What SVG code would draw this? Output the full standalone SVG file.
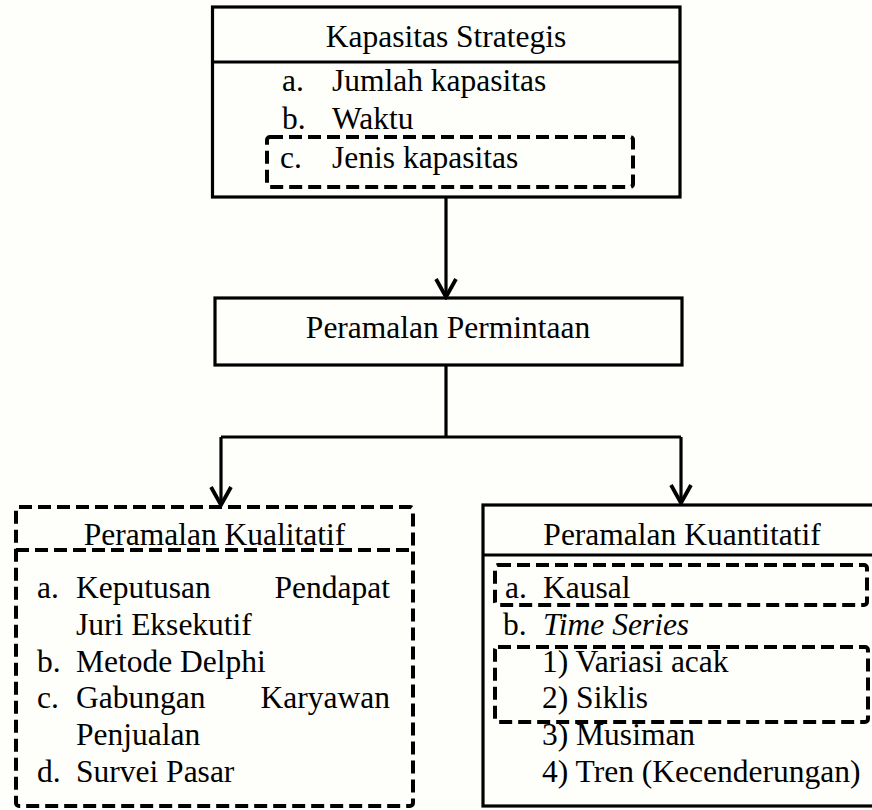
<svg xmlns="http://www.w3.org/2000/svg" width="872" height="810" viewBox="0 0 872 810">
<defs>
<style>
.bg{fill:#fefefa}
.box{fill:none;stroke:#000;stroke-width:3.2}
.dash{fill:none;stroke:#000;stroke-width:4;stroke-dasharray:13 6}
.t{font-family:"Liberation Serif","Times New Roman",serif;font-size:31.5px;fill:#000}
.c{text-anchor:middle}
.r{text-anchor:end}
.i{font-style:italic}
.con{fill:none;stroke:#000;stroke-width:3.2}
</style>
<marker id="arr" markerUnits="userSpaceOnUse" markerWidth="24" markerHeight="24" viewBox="-20 -12 22 24" refX="0" refY="0" orient="auto">
<path d="M-18,-10 L0,0 L-18,10" fill="none" stroke="#000" stroke-width="3.8"/>
</marker>
</defs>
<rect class="bg" x="0" y="0" width="872" height="810"/>

<g id="connectors">
<line class="con" x1="446" y1="197" x2="446" y2="297" marker-end="url(#arr)"/>
<polyline class="con" points="446,365 446,437"/>
<polyline class="con" points="221,437 681,437"/>
<line class="con" x1="221" y1="437" x2="221" y2="505" marker-end="url(#arr)"/>
<line class="con" x1="681" y1="437" x2="681" y2="503" marker-end="url(#arr)"/>
</g>

<g id="kapasitas-strategis">
<rect class="box" x="212.5" y="7" width="467.5" height="190"/>
<line class="box" x1="212.5" y1="62" x2="680" y2="62"/>
<text class="t c" x="446" y="47">Kapasitas Strategis</text>
<text class="t" x="282" y="91">a.</text><text class="t" x="332" y="91">Jumlah kapasitas</text>
<text class="t" x="282" y="129">b.</text><text class="t" x="332" y="129">Waktu</text>
<rect class="dash" x="267" y="137" width="366" height="50" rx="3"/>
<text class="t" x="280" y="168">c.</text><text class="t" x="332" y="168">Jenis kapasitas</text>
</g>

<g id="peramalan-permintaan">
<rect class="box" x="215" y="298" width="467" height="67"/>
<text class="t c" x="448" y="338">Peramalan Permintaan</text>
</g>

<g id="peramalan-kualitatif">
<rect class="dash" x="16" y="507" width="397" height="299" rx="3"/>
<line class="dash" x1="16" y1="550" x2="413" y2="550"/>
<text class="t c" x="214.5" y="545">Peramalan Kualitatif</text>
<text class="t" x="37" y="598">a.</text><text class="t" x="76" y="598">Keputusan</text><text class="t r" x="390" y="598">Pendapat</text>
<text class="t" x="76" y="635">Juri Eksekutif</text>
<text class="t" x="37" y="672">b.</text><text class="t" x="76" y="672">Metode Delphi</text>
<text class="t" x="37" y="708">c.</text><text class="t" x="76" y="708">Gabungan</text><text class="t r" x="390" y="708">Karyawan</text>
<text class="t" x="76" y="745">Penjualan</text>
<text class="t" x="37" y="782">d.</text><text class="t" x="76" y="782">Survei Pasar</text>
</g>

<g id="peramalan-kuantitatif">
<rect class="box" x="483" y="505" width="402" height="301"/>
<line class="box" x1="483" y1="555" x2="885" y2="555"/>
<text class="t c" x="682" y="545">Peramalan Kuantitatif</text>
<rect class="dash" x="495" y="565" width="372" height="40" rx="3"/>
<text class="t" x="505" y="598">a.</text><text class="t" x="543" y="598">Kausal</text>
<text class="t" x="503" y="635">b.</text><text class="t i" x="543" y="635">Time Series</text>
<rect class="dash" x="495" y="647" width="373" height="75" rx="3"/>
<text class="t" x="542" y="672">1) Variasi acak</text>
<text class="t" x="542" y="708">2) Siklis</text>
<text class="t" x="542" y="745">3) Musiman</text>
<text class="t" x="542" y="782">4) Tren (Kecenderungan)</text>
</g>
</svg>
